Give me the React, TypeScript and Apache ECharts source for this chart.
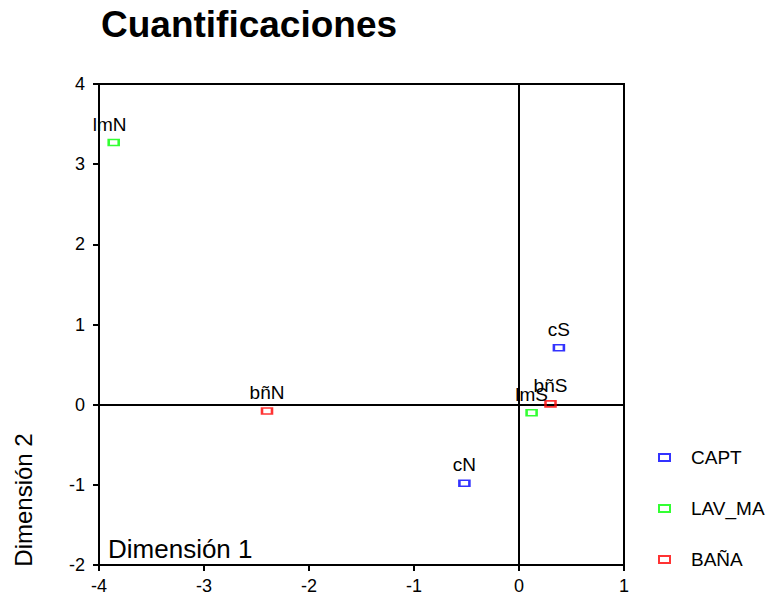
import React, { useEffect, useRef } from "react";
import * as echarts from "echarts";

const seriesNames = ["CAPT", "LAV_MA", "BAÑA"];
const seriesColors = ["#0000ff", "#00ff00", "#ff0000"];
const captPoints: [number, number, string][] = [
  [-0.52, -0.98, "cN"],
  [0.38, 0.71, "cS"],
];
const lavPoints: [number, number, string][] = [
  [-3.86, 3.27, "lmN"],
  [0.12, -0.1, "lmS"],
];
const banaPoints: [number, number, string][] = [
  [-2.4, -0.08, "bñN"],
  [0.3, 0.01, "bñS"],
];
const xRange = [-4, 1];
const yRange = [-2, 4];
const titleText = "Cuantificaciones";
const xName = "Dimensión 1";
const yName = "Dimensión 2";

export default function App() {
  const ref = useRef<HTMLDivElement>(null);
  useEffect(() => {
    if (!ref.current) return;
    const chart = echarts.init(ref.current, null, { renderer: "svg" });
    const font = "Liberation Sans, Arial, sans-serif";
    const allPoints = [captPoints, lavPoints, banaPoints];
    const series: any[] = allPoints.map((pts, i) => ({
      type: "scatter",
      name: seriesNames[i],
      symbol: "rect",
      symbolSize: [10, 6],
      clip: false,
      itemStyle: {
        color: "rgba(0,0,0,0)",
        borderColor: seriesColors[i],
        borderWidth: 2,
      },
      label: {
        show: true,
        position: "top",
        distance: 5,
        formatter: (p: any) => p.data.name,
        color: "#000",
        opacity: 1,
        textBorderWidth: 0,
        fontSize: 19,
        fontFamily: font,
      },
      labelLayout: (params: any) =>
        params.seriesIndex === 1 && params.dataIndex === 0 ? { dx: -4, hideOverlap: false } : { hideOverlap: false },
      data: pts.map((p) => ({ value: [p[0], p[1]], name: p[2] })),
      z: 5,
    }));
    series.push({
      type: "scatter",
      data: [],
      silent: true,
      markLine: {
        silent: true,
        symbol: "none",
        label: { show: false },
        lineStyle: { color: "#000", width: 2, type: "solid" },
        data: [{ xAxis: 0 }, { yAxis: 0 }],
      },
      z: 2,
    });
    chart.setOption({
      animation: false,
      backgroundColor: "#fff",
      title: {
        text: titleText,
        left: 96,
        top: 1,
        textStyle: { fontSize: 37, fontWeight: "bold", color: "#000", fontFamily: font },
      },
      grid: { left: 99, right: 145, top: 84, bottom: 27, show: true, borderColor: "#000", borderWidth: 2, backgroundColor: "transparent" },
      xAxis: {
        type: "value",
        min: xRange[0],
        max: xRange[1],
        interval: 1,
        axisLine: { show: true, onZero: false, lineStyle: { color: "#000", width: 2 } },
        axisTick: { show: true, length: 6, lineStyle: { color: "#000", width: 2 } },
        axisLabel: { color: "#000", fontSize: 18, fontFamily: font, margin: 12 },
        splitLine: { show: false },
      },
      yAxis: {
        type: "value",
        min: yRange[0],
        max: yRange[1],
        interval: 1,
        axisLine: { show: true, onZero: false, lineStyle: { color: "#000", width: 2 } },
        axisTick: { show: true, length: 6, lineStyle: { color: "#000", width: 2 } },
        axisLabel: { color: "#000", fontSize: 18, fontFamily: font, margin: 14 },
        splitLine: { show: false },
      },
      legend: {
        orient: "vertical",
        left: 653,
        top: 443,
        itemWidth: 11,
        itemHeight: 7,
        itemGap: 32,
        data: seriesNames,
        itemStyle: { color: "rgba(0,0,0,0)", borderColor: "inherit", borderWidth: 2 },
        textStyle: { fontSize: 19, fontFamily: font, color: "#000", lineHeight: 19, padding: [0, 0, 0, 16] },
      },
      graphic: [
        {
          type: "text",
          left: 108,
          top: 536,
          style: { text: xName, fontSize: 26, fontFamily: font, fill: "#000" },
          z: 10,
        },
        {
          type: "text",
          x: 23,
          y: 500,
          rotation: Math.PI / 2,
          style: { text: yName, fontSize: 24, fontFamily: font, fill: "#000", align: "center", verticalAlign: "middle" },
          z: 10,
        },
      ],
      series,
    });
    return () => chart.dispose();
  }, []);
  return <div ref={ref} style={{ width: 769, height: 595, position: "absolute", left: 0, top: 0 }} />;
}
